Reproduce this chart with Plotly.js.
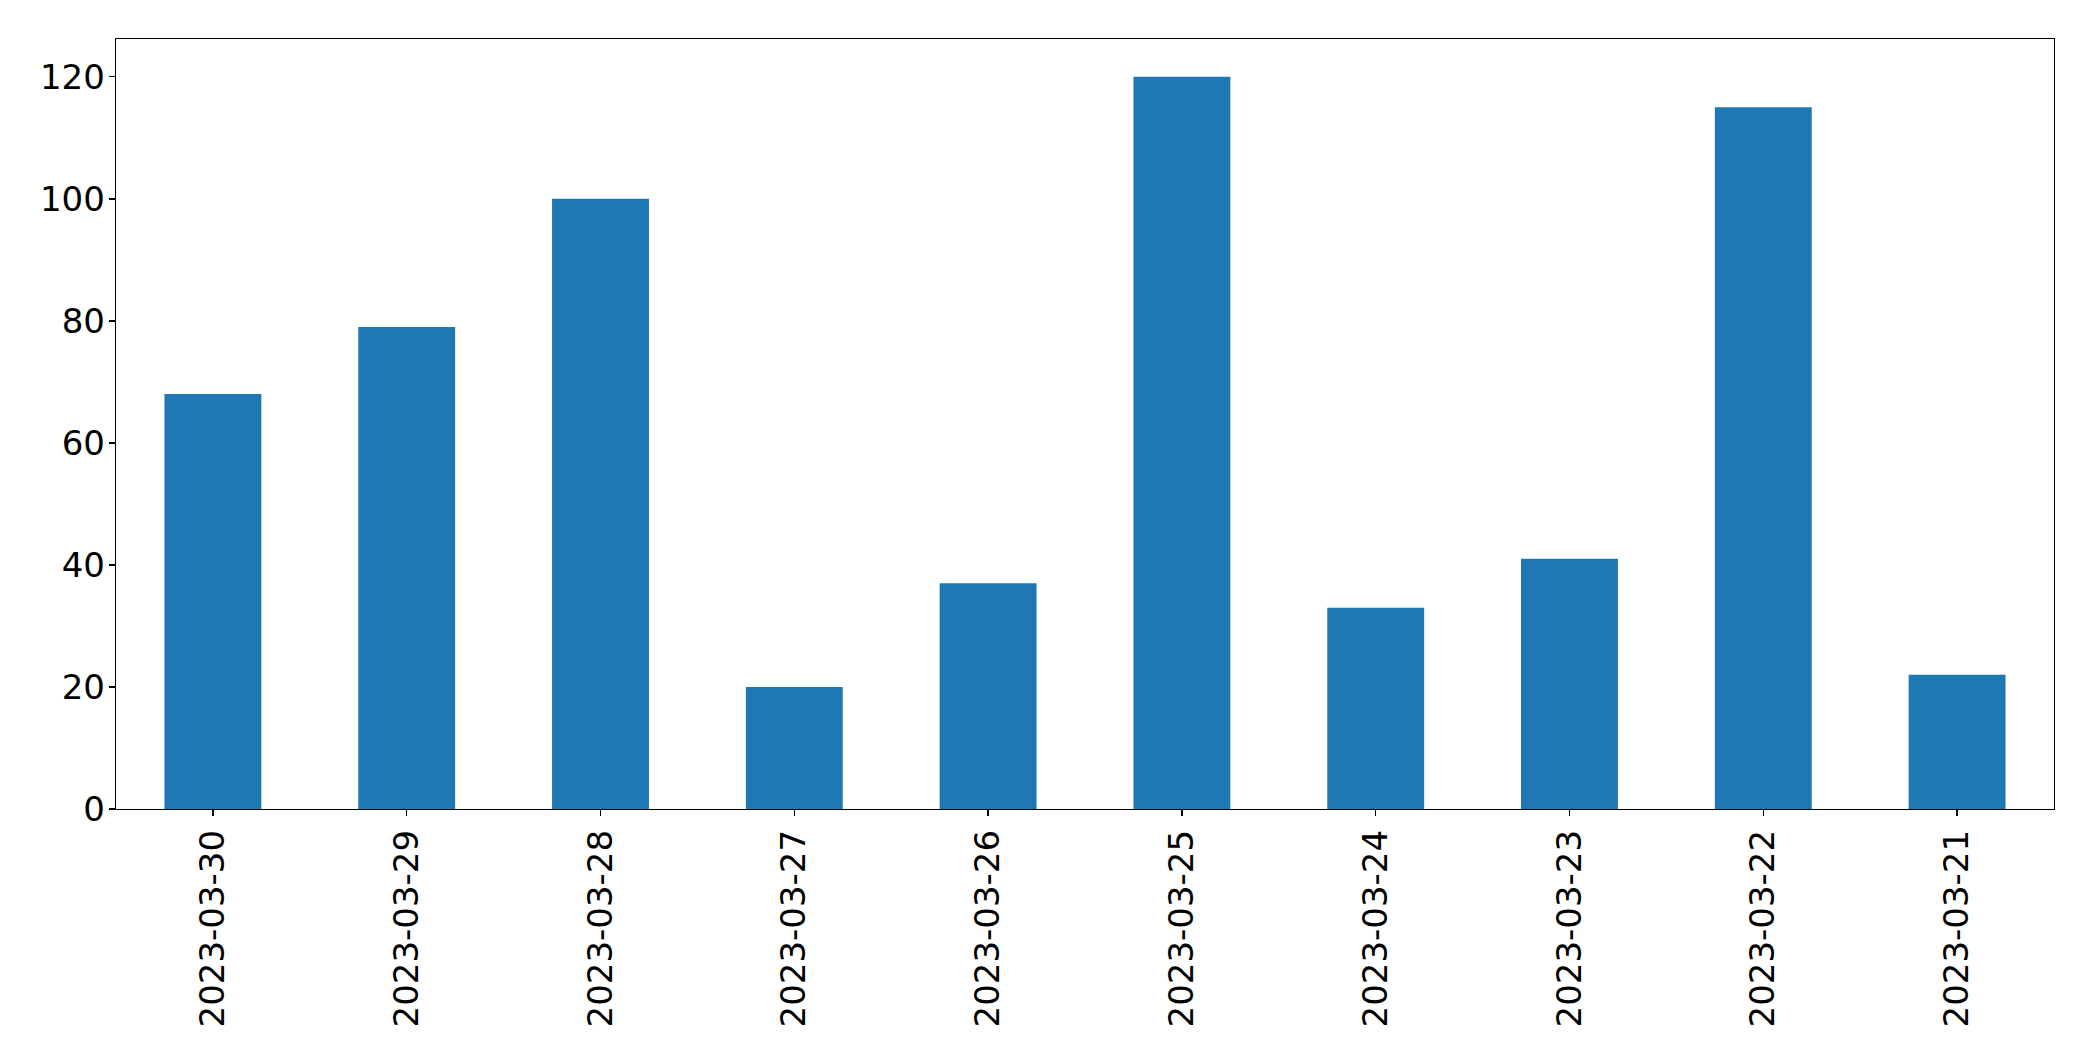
<!DOCTYPE html>
<html>
<head>
<meta charset="utf-8">
<script src="https://cdn.plot.ly/plotly-3.0.1.min.js"></script>
<style>html,body{margin:0;padding:0;background:#fff;}#chart{width:2093px;height:1061px;}</style>
</head>
<body>
<div id="chart"></div>
<script>
const dates = ["2023-03-30","2023-03-29","2023-03-28","2023-03-27","2023-03-26","2023-03-25","2023-03-24","2023-03-23","2023-03-22","2023-03-21"];
const counts = [68, 79, 100, 20, 37, 120, 33, 41, 115, 22];
const yTicks = [0, 20, 40, 60, 80, 100, 120];

const font = {family: "DejaVu Sans", size: 34, color: "#000"};
Plotly.newPlot("chart", [{
  type: "bar",
  x: dates,
  y: counts,
  width: 0.5,
  marker: {color: "#1f77b4", line: {width: 0}},
  hoverinfo: "x+y"
}], {
  width: 2093, height: 1061,
  margin: {l: 116, r: 39, t: 39, b: 252, pad: 0},
  paper_bgcolor: "#fff", plot_bgcolor: "#fff",
  showlegend: false,
  font: font,
  xaxis: {
    type: "category",
    range: [-0.5, 9.5],
    tickangle: -90,
    showgrid: false, zeroline: false,
    showline: true, mirror: true, linecolor: "#000", linewidth: 1.3,
    ticks: "outside", ticklen: 6, tickwidth: 1.3, tickcolor: "#000",
    tickfont: font
  },
  yaxis: {
    range: [0, 126.2],
    tickvals: yTicks,
    showgrid: false, zeroline: false,
    showline: true, mirror: true, linecolor: "#000", linewidth: 1.3,
    ticks: "outside", ticklen: 6, tickwidth: 1.3, tickcolor: "#000",
    ticklabelstandoff: -3,
    tickfont: font
  }
}, {displayModeBar: false, staticPlot: true});
</script>
</body>
</html>
